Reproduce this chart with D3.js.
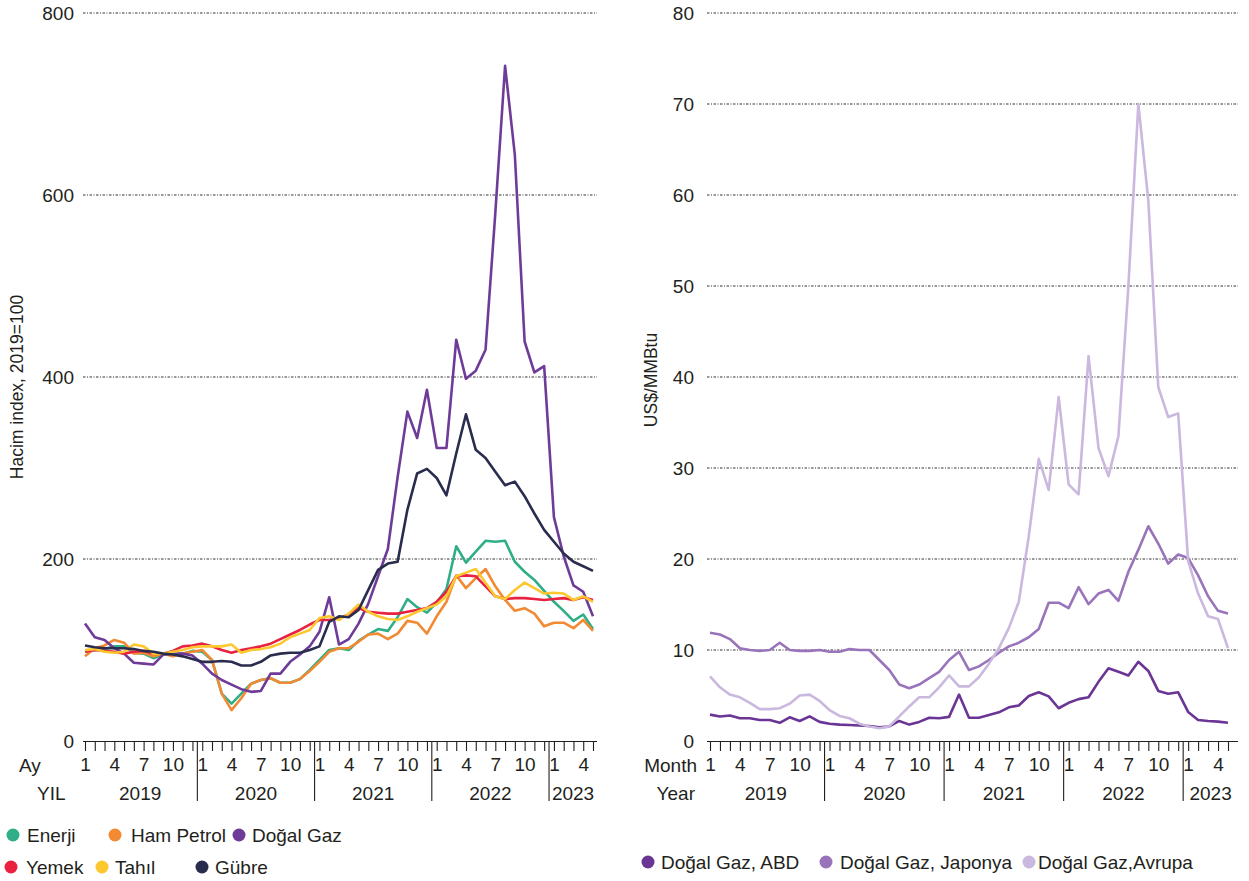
<!DOCTYPE html>
<html><head><meta charset="utf-8">
<script src="https://cdn.jsdelivr.net/npm/d3@7"></script>
<style>
body{margin:0;background:#fff;}
svg text{font-family:"Liberation Sans",Arial,Helvetica,sans-serif;fill:#231f20;}
</style></head><body>
<svg id="c" width="1249" height="881"></svg>
<script>
// ---------- categories / tick labels ----------
const years = ["2019","2020","2021","2022","2023"];
const monthsInYear = [12,12,12,12,5];
const monthTickLabels = [1,4,7,10];
const leftYTicks = [0,200,400,600,800];
const rightYTicks = [0,10,20,30,40,50,60,70,80];

// ---------- left panel series (volume index, 2019=100) ----------
const enerji = [98,100,101,104,104,97,96,91,95,95,96,99,
  98,89,52,41,52,63,67,69,64,64,68,78,
  89,100,102,100,110,117,123,121,136,156,147,141,
  152,167,214,196,208,220,219,220,197,186,177,165,
  153,143,132,139,123];
const hamPetrol = [93,102,105,111,108,96,97,93,96,93,96,98,
  100,89,52,34,47,63,67,69,64,64,68,77,
  87,98,102,102,109,117,118,112,118,132,130,118,
  137,153,182,168,179,189,170,155,143,146,140,126,
  130,130,124,133,121];
const dogalGaz = [129,114,111,102,96,86,85,84,95,96,96,94,
  85,74,67,62,57,54,55,74,74,87,95,104,
  120,158,106,112,129,151,181,211,290,362,333,386,
  322,322,441,398,407,430,580,742,644,439,405,412,
  246,203,171,164,137];
const yemek = [98,100,99,98,96,98,99,96,96,99,104,105,
  107,104,100,97,100,102,104,107,112,117,122,128,
  133,133,135,139,146,142,141,140,140,142,144,146,
  153,164,181,182,181,170,159,156,157,157,156,155,
  156,157,155,158,155];
const tahil = [100,101,98,97,98,106,104,96,96,98,100,103,
  104,104,104,106,97,100,101,103,107,114,118,122,
  135,137,133,140,150,142,137,134,133,137,142,146,
  150,159,181,185,189,174,159,156,166,174,168,162,
  163,162,155,159,153];
const gubre = [105,103,102,102,102,101,99,98,96,95,93,90,
  87,87,88,87,83,83,87,94,96,97,97,100,
  104,131,137,136,144,166,188,195,197,254,294,299,
  289,270,316,359,320,311,296,281,285,269,250,232,
  219,206,197,192,187];

// ---------- right panel series (US$/MMBtu) ----------
const gazABD = [2.9,2.7,2.8,2.5,2.5,2.3,2.3,2.0,2.6,2.2,2.7,2.1,
  1.9,1.8,1.75,1.7,1.65,1.5,1.6,2.2,1.8,2.1,2.55,2.5,
  2.65,5.1,2.55,2.55,2.85,3.15,3.7,3.9,4.95,5.35,4.9,3.6,
  4.2,4.6,4.8,6.5,8.0,7.6,7.2,8.7,7.7,5.5,5.2,5.35,
  3.2,2.3,2.2,2.13,2.0];
const gazJaponya = [11.9,11.7,11.2,10.2,10.0,9.9,10.0,10.8,10.0,9.9,9.9,10.0,
  9.8,9.8,10.1,10.0,10.0,8.9,7.8,6.2,5.8,6.2,6.9,7.6,
  8.9,9.8,7.8,8.2,8.9,9.7,10.4,10.8,11.4,12.3,15.2,15.2,
  14.6,16.9,15.05,16.2,16.6,15.4,18.6,21.0,23.6,21.7,19.5,20.5,
  20.1,18.2,15.9,14.3,14.0];
const gazAvrupa = [7.1,5.9,5.1,4.8,4.2,3.5,3.5,3.6,4.1,5.0,5.1,4.4,
  3.4,2.75,2.5,1.9,1.6,1.4,1.6,2.7,3.8,4.8,4.8,5.9,
  7.2,6.0,6.0,7.0,8.5,10.2,12.4,15.3,22.5,31.0,27.6,37.8,
  28.2,27.1,42.3,32.2,29.1,33.5,50.0,70.0,59.4,38.9,35.6,36.0,
  19.8,16.2,13.7,13.4,10.2];

// ---------- build categories ----------
const categories = [];
years.forEach((yr,k)=>{ for(let m=1;m<=monthsInYear[k];m++) categories.push({year:yr, month:m}); });
const N = categories.length;

const svg = d3.select("#c");

function drawPanel(cfg){
  const g = svg.append("g");
  const x = d3.scaleLinear().domain([0,N-1]).range(cfg.xRange);
  const y = d3.scaleLinear().domain([0,cfg.yTicks[cfg.yTicks.length-1]]).range([741,13]);

  // gridlines
  g.selectAll("line.grid").data(cfg.yTicks.filter(v=>v>0)).enter().append("line")
    .attr("x1",cfg.gridX[0]).attr("x2",cfg.gridX[1])
    .attr("y1",d=>y(d)).attr("y2",d=>y(d))
    .attr("stroke","#333").attr("stroke-width",1)
    .attr("stroke-dasharray","2.5,1.5,1,1.5");

  // y axis labels
  const ya = d3.axisLeft(y).tickValues(cfg.yTicks).tickSize(0).tickPadding(0);
  const yg = g.append("g").attr("transform",`translate(${cfg.yLabelX},0)`).call(ya);
  yg.select(".domain").remove();
  yg.selectAll("text").attr("font-size",19).attr("fill","#231f20");

  // x axis: baseline + monthly ticks
  g.append("line").attr("x1",cfg.gridX[0]).attr("x2",cfg.gridX[1]).attr("y1",741.5).attr("y2",741.5)
    .attr("stroke","#231f20").attr("stroke-width",1.2);
  const xa = d3.axisBottom(x).tickValues(d3.range(N)).tickSize(10).tickSizeOuter(0).tickFormat("");
  const xg = g.append("g").attr("transform","translate(0,741)").call(xa);
  xg.select(".domain").remove();
  xg.selectAll("line").attr("stroke","#231f20").attr("stroke-width",1.1);

  // month labels
  const monthIdx = d3.range(N).filter(i=>monthTickLabels.includes(categories[i].month));
  const ma = d3.axisBottom(x).tickValues(monthIdx).tickSize(0).tickPadding(17)
    .tickFormat(i=>categories[i].month);
  const mg = g.append("g").attr("transform","translate(0,741)").call(ma);
  mg.select(".domain").remove();
  mg.selectAll("text").attr("font-size",19).attr("fill","#231f20");

  // year separators
  const seps = [];
  let acc = 0;
  monthsInYear.slice(0,-1).forEach(n=>{acc+=n; seps.push(acc-0.5);});
  g.selectAll("line.sep").data(seps).enter().append("line")
    .attr("x1",d=>x(d)).attr("x2",d=>x(d)).attr("y1",741).attr("y2",801)
    .attr("stroke","#231f20").attr("stroke-width",1.1);

  // year labels
  const bounds = [cfg.gridX[0]].concat(seps.map(s=>x(s))).concat([cfg.gridX[1]]);
  g.selectAll("text.yr").data(years).enter().append("text")
    .attr("x",(d,k)=>(bounds[k]+bounds[k+1])/2).attr("y",800)
    .attr("text-anchor","middle").attr("font-size",19).text(d=>d);

  // row captions
  g.append("text").attr("x",cfg.monthCap[0]).attr("y",772).attr("text-anchor",cfg.capAnchor)
    .attr("font-size",19).text(cfg.monthCap[1]);
  g.append("text").attr("x",cfg.yearCap[0]).attr("y",800).attr("text-anchor",cfg.capAnchor)
    .attr("font-size",19).text(cfg.yearCap[1]);

  // y title
  g.append("text").attr("transform",`translate(${cfg.titlePos[0]},${cfg.titlePos[1]}) rotate(-90)`)
    .attr("text-anchor","middle").attr("font-size",17.5).text(cfg.title);

  // lines
  const line = d3.line().x((d,i)=>x(i)).y(d=>y(d));
  cfg.series.forEach(s=>{
    g.append("path").datum(s.values).attr("d",line)
      .attr("fill","none").attr("stroke",s.color).attr("stroke-width",2.6)
      .attr("stroke-linejoin","round");
  });

  // legend
  cfg.series.forEach(s=>{
    g.append("circle").attr("cx",s.leg[0]).attr("cy",s.leg[2]).attr("r",6.5).attr("fill",s.color);
    g.append("text").attr("x",s.leg[1]).attr("y",s.leg[2]).attr("dy","0.35em")
      .attr("font-size",19).text(s.name);
  });
}

drawPanel({
  xRange:[85,593], gridX:[83,597], yTicks:leftYTicks, yLabelX:74,
  monthCap:[19,"Ay"], yearCap:[37,"YIL"], capAnchor:"start",
  title:"Hacim index, 2019=100", titlePos:[23,387],
  series:[
    {name:"Enerji", values:enerji, color:"#2fae88", leg:[13,27,835]},
    {name:"Ham Petrol", values:hamPetrol, color:"#f28a33", leg:[115,131,835]},
    {name:"Doğal Gaz", values:dogalGaz, color:"#6f3b98", leg:[239,252,835]},
    {name:"Yemek", values:yemek, color:"#e8223f", leg:[11,26,867]},
    {name:"Tahıl", values:tahil, color:"#fdc82f", leg:[102,115,867]},
    {name:"Gübre", values:gubre, color:"#2a2c4e", leg:[202,215,867]}
  ]
});

drawPanel({
  xRange:[710,1228], gridX:[707,1238], yTicks:rightYTicks, yLabelX:694,
  monthCap:[697,"Month"], yearCap:[695,"Year"], capAnchor:"end",
  title:"US$/MMBtu", titlePos:[657,380],
  series:[
    {name:"Doğal Gaz, ABD", values:gazABD, color:"#6a3594", leg:[648,661,862]},
    {name:"Doğal Gaz, Japonya", values:gazJaponya, color:"#9a74ba", leg:[826,840,862]},
    {name:"Doğal Gaz,Avrupa", values:gazAvrupa, color:"#cbb8de", leg:[1029,1038,862]}
  ]
});
</script>
</body></html>
